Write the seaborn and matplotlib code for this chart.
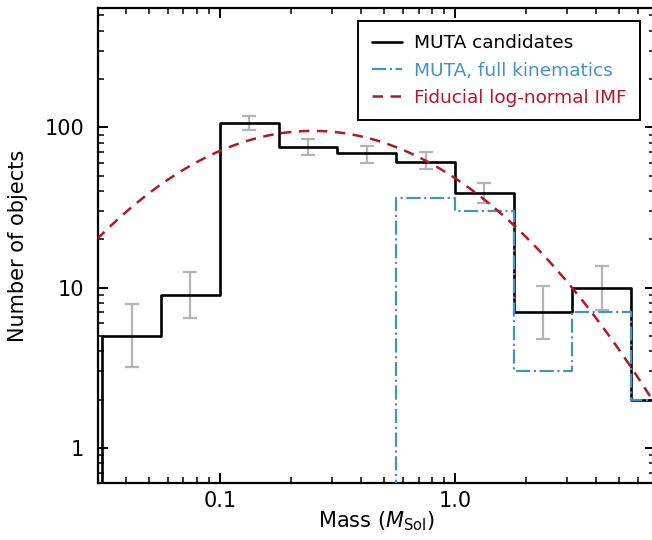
import numpy as np
import pandas as pd
import matplotlib
matplotlib.use("Agg")
import matplotlib.pyplot as plt
import seaborn as sns
from matplotlib.ticker import LogLocator, NullFormatter

# ---------------- data ----------------
bin_edges = [0.0316, 0.0562, 0.1, 0.178, 0.316, 0.562, 1.0, 1.78, 3.16, 5.62, 10.0]
muta_candidates = [5, 9, 106, 75, 69, 61, 39, 7, 10, 2]
muta_full_kinematics = [0, 0, 0, 0, 0, 36, 30, 3, 7, 2]
err_low = [3.2, 6.5, 96, 67, 60, 55, 33.5, 4.8, 7.3, np.nan]
err_high = [7.9, 12.5, 117, 84, 76, 70, 45, 10.2, 13.7, np.nan]

# fiducial log-normal IMF parameters
imf_peak_mass = 0.248
imf_sigma_dex = 0.52
imf_amplitude = 95.0
imf_mass_range = [0.03, 7.2]

x_ticks = [0.1, 1.0]
x_tick_labels = ["0.1", "1.0"]
y_ticks = [1, 10, 100]
y_tick_labels = ["1", "10", "100"]

labels = ["MUTA candidates", "MUTA, full kinematics", "Fiducial log-normal IMF"]
c_black = "black"
c_blue = "#4393c3"
c_red = "#b2182b"
c_err = "#b4b4b4"

# ---------------- style ----------------
sns.set_style("ticks")
plt.rcParams["font.family"] = ["DejaVu Sans"]
plt.rcParams["mathtext.fontset"] = "dejavusans"
for k in ["text.color", "axes.labelcolor", "xtick.color", "ytick.color", "axes.edgecolor"]:
    plt.rcParams[k] = "black"

W, H = 652, 540
fig = plt.figure(figsize=(W / 100, H / 100), dpi=100)
ax = fig.add_axes([98 / W, (H - 483) / H, (655 - 98) / W, (483 - 8) / H])


def step_frame(edges, counts):
    xs = [edges[0]] + list(edges)
    ys = [0] + list(counts) + [counts[-1]]
    return pd.DataFrame({"mass": xs, "n": ys})


edges = np.array(bin_edges)
centers = np.sqrt(edges[:-1] * edges[1:])
lo = np.array(err_low)
hi = np.array(err_high)
mid = np.sqrt(lo * hi)
ax.errorbar(centers, mid, yerr=[mid - lo, hi - mid], fmt="none",
            ecolor=c_err, elinewidth=1.6, capsize=5, capthick=1.6, zorder=1)

sns.lineplot(data=step_frame(bin_edges, muta_candidates), x="mass", y="n",
             sort=False, estimator=None, drawstyle="steps-post",
             color=c_black, lw=1.9, label=labels[0], ax=ax, zorder=2)
sns.lineplot(data=step_frame(bin_edges, muta_full_kinematics), x="mass", y="n",
             sort=False, estimator=None, drawstyle="steps-post",
             color=c_blue, lw=1.6, ls="-.", label=labels[1], ax=ax, zorder=3)

m = np.logspace(np.log10(imf_mass_range[0]), np.log10(imf_mass_range[1]), 300)
imf = imf_amplitude * np.exp(-(np.log10(m) - np.log10(imf_peak_mass)) ** 2
                             / (2 * imf_sigma_dex ** 2))
sns.lineplot(x=m, y=imf, color=c_red, lw=1.8, ls=(0, (4.2, 3.0)),
             label=labels[2], ax=ax, zorder=4)

ax.set_xscale("log")
ax.set_yscale("log")
ax.set_xlim(0.0303, 7.1)
ax.set_ylim(0.604, 555)

ax.set_xticks(x_ticks, labels=x_tick_labels)
ax.set_yticks(y_ticks, labels=y_tick_labels)
ax.xaxis.set_minor_locator(LogLocator(base=10, subs=np.arange(2, 10)))
ax.yaxis.set_minor_locator(LogLocator(base=10, subs=np.arange(2, 10)))
ax.xaxis.set_minor_formatter(NullFormatter())
ax.yaxis.set_minor_formatter(NullFormatter())

ax.tick_params(which="both", direction="in", top=True, right=True, color="black",
               labelcolor="black")
ax.tick_params(which="major", length=7.5, width=1.4, labelsize=15)
ax.tick_params(axis="x", which="major", pad=6)
ax.tick_params(axis="y", which="major", pad=10)
ax.tick_params(which="minor", length=4, width=1.1)
for s in ax.spines.values():
    s.set_linewidth(1.6)
    s.set_color("black")

ax.set_xlabel(r"Mass ($M_{\rm Sol}$)", fontsize=15, labelpad=-1.5, color="black")
ax.set_ylabel("Number of objects", fontsize=15, labelpad=11.5, color="black")

leg = ax.legend(loc="upper right", bbox_to_anchor=(640 / W, (H - 21) / H),
                bbox_transform=fig.transFigure, fontsize=13.3, frameon=True,
                fancybox=False, framealpha=1, edgecolor="black",
                handlelength=1.62, handletextpad=0.65, labelspacing=0.5,
                borderpad=0.73, borderaxespad=0, labelcolor="linecolor")
leg.get_frame().set_linewidth(1.4)

fig.savefig("out.png", dpi=100)
